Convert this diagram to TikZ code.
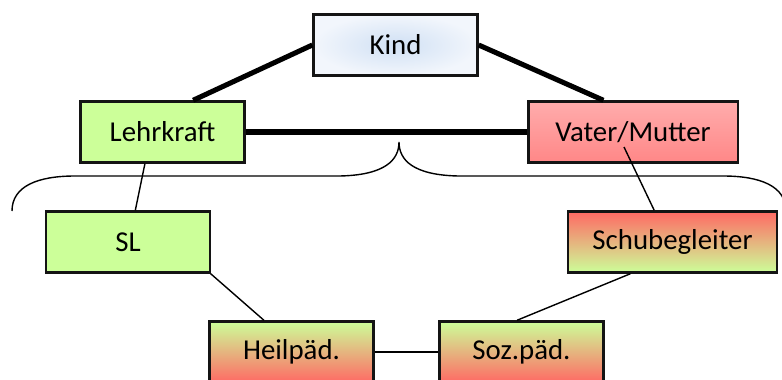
\documentclass[tikz,border=0pt]{standalone}
\usepackage{fontspec}
\setmainfont{Carlito}
\usepackage{xcolor}
\usepackage{tikz}
\usetikzlibrary{positioning, calc}
\definecolor{kindblue}{RGB}{208,224,244}
\definecolor{kindpale}{RGB}{242,246,252}
\definecolor{okgreen}{RGB}{204,255,153}
\definecolor{parentred}{RGB}{255,172,172}
\definecolor{parentdark}{RGB}{255,135,135}
\definecolor{alertred}{RGB}{255,105,100}
\definecolor{edgegray}{RGB}{20,20,20}

\begin{document}
\begin{tikzpicture}[
    x=0.025cm, y=-0.025cm,
    box/.style={draw=edgegray, line width=1.6pt, minimum width=4.1cm, minimum height=1.53cm, inner sep=0pt, font=\fontsize{20.5}{24}\selectfont},
    widebox/.style={box, minimum width=5.23cm},
    strong/.style={line width=3.6pt},
    weak/.style={line width=1pt}
]
    \useasboundingbox (0,0) rectangle (782,380);

    % Top level
    \node[box, shading=radial, inner color=kindblue, outer color=kindpale] (kind) at (395.5,45) {Kind};
    \node[box, fill=okgreen] (lehr) at (162.5,132) {Lehrkraft};
    \node[widebox, top color=parentred, bottom color=parentdark] (vater) at (633,132) {Vater/Mutter};

    % Support level
    \node[box, fill=okgreen] (sl) at (128,242) {SL};
    \node[widebox, top color=alertred, bottom color=okgreen] (schub) at (672.5,242) {Schubegleiter};
    \node[box, top color=okgreen, bottom color=alertred] (heil) at (291.5,352) {Heilpäd.};
    \node[box, top color=okgreen, bottom color=alertred] (soz) at (521.5,352) {Soz.päd.};

    % Strong ties
    \draw[strong] (kind.west) -- (lehr.46);
    \draw[strong] (kind.east) -- (vater.133);
    \draw[strong] (lehr.east) -- (vater.west);

    % Weak ties
    \draw[weak] (lehr.241) -- (sl.77);
    \draw[weak] ($(vater.center)+(-9,15)$) -- (schub.120);
    \draw[weak] (sl.-21) -- (heil.131);
    \draw[weak] (schub.217) -- (soz.98);
    \draw[weak] (heil.east) -- (soz.west);

    % Brace
    \draw[weak] (12,211) .. controls (12,186) and (38,176) .. (75,176) -- (340,176)
        .. controls (385,175) and (399,160) .. (399,142)
        .. controls (399,160) and (413,175) .. (458,176) -- (723,176)
        .. controls (760,176) and (786,186) .. (786,211);
\end{tikzpicture}
\end{document}
